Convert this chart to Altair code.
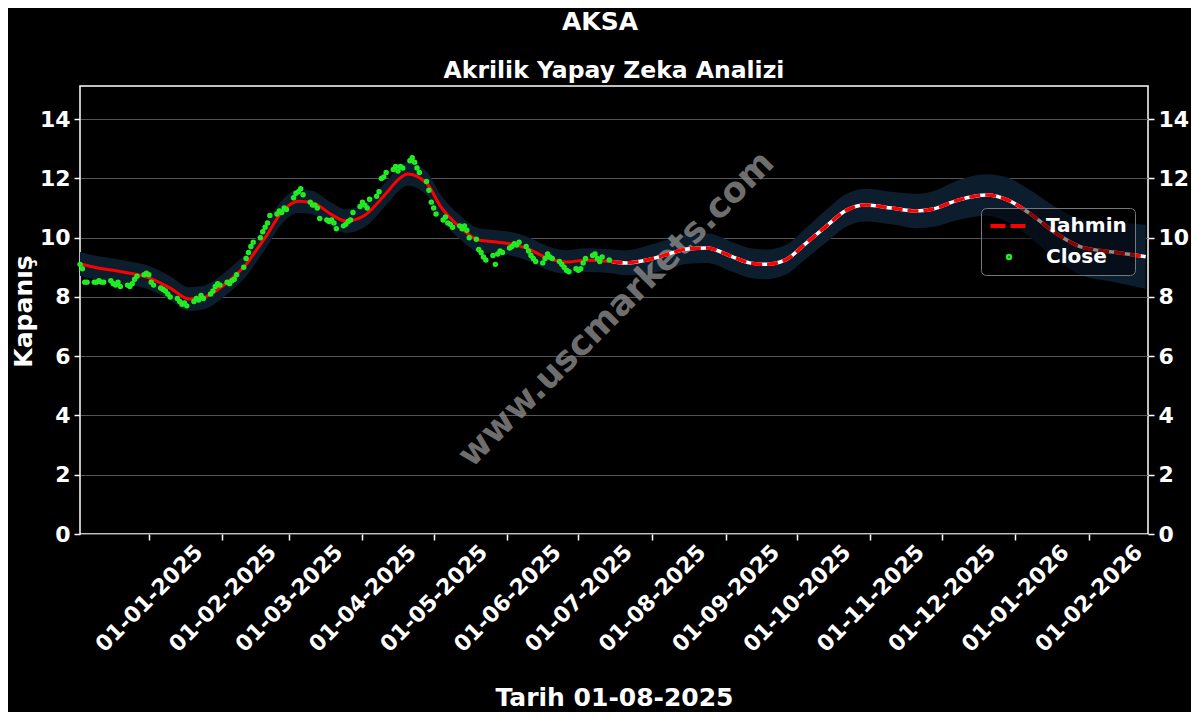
import altair as alt
import pandas as pd

TITLE = "AKSA"
SUBTITLE = "Akrilik Yapay Zeka Analizi"
X_TITLE = "Tarih 01-08-2025"
Y_TITLE = "Kapanış"
WATERMARK = "www.uscmarkets.com"
LEGEND_NAMES = ["Tahmin", "Close"]

# Close prices, one per business day from 2024-12-03 to 2025-07-14
close_start = "2024-12-03"
close_end = "2025-07-14"
close_values = [
    9.10, 8.95, 8.50, 8.50,
    8.50, 8.50, 8.55, 8.50, 8.50,
    8.55, 8.45, 8.40, 8.50, 8.35,
    8.40, 8.35, 8.45, 8.60, 8.70,
    8.75, 8.80, 8.75, 8.50, 8.40,
    8.30, 8.25, 8.20, 8.10, 8.00,
    7.95, 7.85, 7.75, 7.80, 7.70,
    7.85, 7.95, 7.90, 8.05, 7.95,
    8.10, 8.20, 8.35, 8.45, 8.40,
    8.50, 8.45, 8.55, 8.60, 8.75,
    9.00, 9.30, 9.50, 9.70, 9.85,
    10.00, 10.20, 10.35, 10.50, 10.75,
    10.80, 10.90, 10.85, 11.00, 10.95,
    11.35, 11.50, 11.55, 11.65, 11.45,
    11.20, 11.10, 11.10, 11.00, 10.65,
    10.60, 10.55, 10.60, 10.50, 10.30,
    10.40, 10.45, 10.55, 10.60, 10.85,
    11.05, 11.20, 11.10, 11.00, 11.30,
    11.40, 11.55, 12.00, 12.05, 12.20,
    12.30, 12.40, 12.25, 12.40, 12.35,
    12.60, 12.70, 12.55, 12.35, 12.20,
    11.90, 11.60, 11.20, 11.00, 10.80,
    10.60, 10.70, 10.50, 10.45, 10.35,
    10.40, 10.30, 10.40, 10.25, 10.00,
    9.95, 9.60, 9.50, 9.35, 9.25,
    9.40, 9.10, 9.45, 9.55, 9.50,
    9.65, 9.70, 9.80, 9.75, 9.85,
    9.70, 9.55, 9.40, 9.30, 9.20,
    9.15, 9.30, 9.45, 9.35, 9.30,
    9.20, 9.10, 9.00, 8.90, 8.85,
    8.95, 8.90, 8.95, 9.15, 9.30,
    9.40, 9.45, 9.30, 9.20, 9.35,
    9.25,
]

# Model line (Tahmin) with its band
pred_dates = [
    "2024-12-03", "2024-12-11", "2024-12-17", "2024-12-24", "2024-12-31",
    "2025-01-10", "2025-01-18", "2025-01-24", "2025-01-31", "2025-02-06",
    "2025-02-11", "2025-02-15", "2025-02-19", "2025-02-26", "2025-03-05",
    "2025-03-11", "2025-03-19", "2025-03-25", "2025-04-02", "2025-04-11",
    "2025-04-16", "2025-04-20", "2025-04-28", "2025-05-04", "2025-05-12",
    "2025-05-20", "2025-05-28", "2025-06-05", "2025-06-11", "2025-06-18",
    "2025-06-26", "2025-07-04", "2025-07-15", "2025-07-21", "2025-07-31",
    "2025-08-08", "2025-08-16", "2025-08-24", "2025-09-04", "2025-09-11",
    "2025-09-18", "2025-09-26", "2025-10-05", "2025-10-13", "2025-10-22",
    "2025-10-30", "2025-11-10", "2025-11-20", "2025-11-27", "2025-12-08",
    "2025-12-20", "2025-12-29", "2026-01-07", "2026-01-18", "2026-01-29",
    "2026-02-12", "2026-02-25",
]
pred_values = [
    9.12, 8.97, 8.90, 8.80, 8.68,
    8.30, 7.93, 7.98, 8.30, 8.70,
    9.10, 9.55, 10.00, 10.86, 11.23,
    11.18, 10.78, 10.56, 10.76, 11.50,
    11.95, 12.15, 11.84, 11.05, 10.36,
    9.92, 9.85, 9.75, 9.58, 9.31,
    9.18, 9.24, 9.20, 9.15, 9.27,
    9.45, 9.62, 9.65, 9.35, 9.15,
    9.10, 9.24, 9.82, 10.36, 10.93,
    11.10, 11.00, 10.90, 10.96, 11.27,
    11.44, 11.27, 10.83, 10.16, 9.68,
    9.51, 9.36,
]
band_lo = [
    8.72, 8.57, 8.50, 8.40, 8.28,
    7.90, 7.53, 7.58, 7.90, 8.30,
    8.70, 9.15, 9.60, 10.46, 10.83,
    10.78, 10.38, 10.16, 10.36, 11.10,
    11.55, 11.75, 11.44, 10.65, 9.96,
    9.52, 9.45, 9.35, 9.18, 8.91,
    8.78, 8.84, 8.80, 8.73, 8.79,
    8.95, 9.12, 9.15, 8.85, 8.65,
    8.60, 8.74, 9.30, 9.81, 10.38,
    10.55, 10.45, 10.32, 10.36, 10.60,
    10.74, 10.52, 10.03, 9.28, 8.73,
    8.50, 8.28,
]
band_hi = [
    9.52, 9.37, 9.30, 9.20, 9.08,
    8.70, 8.33, 8.38, 8.70, 9.10,
    9.50, 9.95, 10.40, 11.26, 11.63,
    11.58, 11.18, 10.96, 11.16, 11.90,
    12.35, 12.55, 12.24, 11.45, 10.76,
    10.32, 10.25, 10.15, 9.98, 9.71,
    9.58, 9.64, 9.60, 9.57, 9.75,
    9.95, 10.12, 10.15, 9.85, 9.65,
    9.60, 9.74, 10.34, 10.91, 11.48,
    11.65, 11.55, 11.48, 11.56, 11.94,
    12.14, 12.02, 11.63, 11.04, 10.63,
    10.52, 10.44,
]
forecast_start = "2025-07-15"

x_domain = ["2024-12-03", "2026-02-26"]
tick_months = [(2025, m) for m in range(1, 13)] + [(2026, 1), (2026, 2)]
y_ticks = [0, 2, 4, 6, 8, 10, 12, 14]
y_domain = [0, 15.12]

# ---------------------------------------------------------------- data frames
close_df = pd.DataFrame({
    "date": pd.bdate_range(close_start, close_end).strftime("%Y-%m-%d"),
    "close": close_values,
})
close_df["series"] = "Close"

pred_df = pd.DataFrame({"date": pred_dates, "pred": pred_values, "lo": band_lo, "hi": band_hi})
hist_df = pred_df[pred_df["date"] <= forecast_start]
fc_df = pred_df[pred_df["date"] >= forecast_start]

FONT = "DejaVu Sans"
RED = "#ff0000"
GREEN = "#22ee22"
BAND = "#0c1d2e"

xscale = alt.Scale(type="utc", domain=x_domain)
yscale = alt.Scale(domain=y_domain, nice=False, zero=False)

x_axis = alt.Axis(
    values=[alt.DateTime(year=y, month=m, date=1, utc=True) for y, m in tick_months],
    format="%d-%m-%Y",
    labelAngle=315,
    labelAlign="center",
    labelBaseline="middle",
    labelPadding=58,
    labelFont=FONT, labelFontSize=22, labelFontWeight="bold", labelColor="white",
    labelOverlap=False, labelFlush=False,
    grid=False, domain=False,
    ticks=True, tickColor="white", tickSize=6, tickWidth=1.5,
    title=X_TITLE, titleFont=FONT, titleFontSize=25, titleFontWeight="bold",
    titleColor="white", titleY=171, titleBaseline="alphabetic",
)

left_axis = alt.Axis(
    values=y_ticks, orient="left",
    grid=True, gridColor="#555555", gridWidth=1,
    domain=False, ticks=True, tickColor="white", tickSize=6, tickWidth=1.5,
    labelFont=FONT, labelFontSize=22, labelFontWeight="bold", labelColor="white",
    labelPadding=4,
    title=Y_TITLE, titleFont=FONT, titleFontSize=25, titleFontWeight="bold",
    titleColor="white", titleAngle=270, titleX=-49, titleY=225,
    titleBaseline="alphabetic", titleAlign="center",
)
right_axis = alt.Axis(
    values=y_ticks, orient="right",
    grid=False, domain=False, ticks=True, tickColor="white", tickSize=6, tickWidth=1.5,
    labelFont=FONT, labelFontSize=22, labelFontWeight="bold", labelColor="white",
    labelPadding=4, title=None,
)

X = alt.X("date:T", scale=xscale, axis=x_axis)

band = alt.Chart(pred_df).mark_area(color=BAND, interpolate="monotone").encode(
    x=X,
    y=alt.Y("lo:Q", scale=yscale, axis=left_axis),
    y2="hi:Q",
)

wm = alt.Chart(pd.DataFrame({"t": [WATERMARK]})).mark_text(
    font=FONT, fontSize=35, fontWeight="bold", color="#8a8a8a", opacity=0.8,
    angle=315, align="center", baseline="middle",
).encode(x=alt.value(536), y=alt.value(223), text="t:N")

hist_line = alt.Chart(hist_df).mark_line(color=RED, strokeWidth=3, interpolate="monotone").encode(
    x=X, y=alt.Y("pred:Q", scale=yscale, axis=None)
)
fc_white = alt.Chart(fc_df).mark_line(color="white", strokeWidth=3.5, interpolate="monotone").encode(
    x=X, y=alt.Y("pred:Q", scale=yscale, axis=None)
)
fc_red = alt.Chart(fc_df).mark_line(
    color=RED, strokeWidth=3.5, strokeDash=[11, 5], interpolate="monotone"
).encode(x=X, y=alt.Y("pred:Q", scale=yscale, axis=None))

legend = alt.Legend(
    title=None, orient="none", legendX=901, legendY=122,
    fillColor="rgba(0,0,0,0.45)", strokeColor="#777777", cornerRadius=5, padding=8,
    labelFont=FONT, labelFontSize=20, labelFontWeight="bold", labelColor="white",
    symbolStrokeWidth=4, symbolDash=[15, 5], rowPadding=11, labelOffset=27,
    symbolOffset=10, symbolOpacity=1,
)

DASH_SYMBOL = "M-3,0L3,0"

points = alt.Chart(close_df).mark_point(filled=False, strokeWidth=3, opacity=1).encode(
    x=X,
    y=alt.Y("close:Q", scale=yscale, axis=right_axis),
    color=alt.Color("series:N", scale=alt.Scale(domain=LEGEND_NAMES, range=[RED, GREEN]), legend=legend),
    shape=alt.Shape("series:N", scale=alt.Scale(domain=LEGEND_NAMES, range=[DASH_SYMBOL, "circle"]), legend=legend),
    size=alt.Size("series:N", scale=alt.Scale(domain=LEGEND_NAMES, range=[152, 6]), legend=legend),
)

head = alt.Chart(pd.DataFrame({"t": [TITLE]})).mark_text(
    font=FONT, fontSize=25, fontWeight="bold", color="white", align="center", baseline="alphabetic",
).encode(x=alt.value(520), y=alt.value(-56), text="t:N")

sub = alt.Chart(pd.DataFrame({"t": [SUBTITLE]})).mark_text(
    font=FONT, fontSize=23.5, fontWeight="bold", color="white", align="center", baseline="alphabetic",
).encode(x=alt.value(534), y=alt.value(-8), text="t:N")

chart = alt.layer(band, wm, hist_line, fc_white, fc_red, points, head, sub).resolve_axis(
    y="independent"
).properties(
    width=1068, height=448,
    autosize=alt.AutoSizeParams(type="none"),
    padding={"left": 72, "top": 78, "right": 43, "bottom": 178},
    background="black",
).configure_view(stroke="white", strokeWidth=1.5)

chart.save("out.html", embed_options={"renderer": "svg", "actions": False})
